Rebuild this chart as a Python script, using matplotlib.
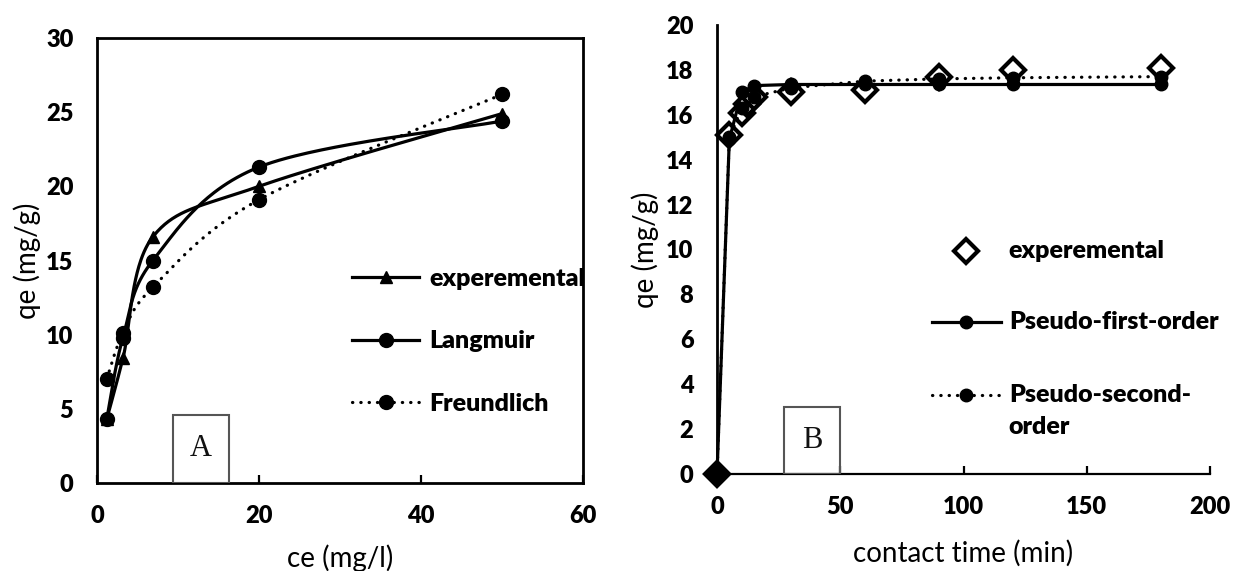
import numpy as np
import matplotlib
matplotlib.use("Agg")
import matplotlib.pyplot as plt
from matplotlib.patches import Rectangle
from matplotlib.lines import Line2D

plt.rcParams['font.family'] = ['Lato', 'DejaVu Sans']

# ---------------- data: panel A (isotherms) ----------------
ce = [1.2, 3.2, 6.9, 20, 50]
qe_exp_A = [4.3, 8.4, 16.6, 20.0, 24.9]
qe_langmuir = [4.3, 9.8, 15.0, 21.3, 24.4]
qe_freundlich = [7.0, 10.1, 13.2, 19.1, 26.2]
xticks_A = [0, 20, 40, 60]
yticks_A = [0, 5, 10, 15, 20, 25, 30]

# ---------------- data: panel B (kinetics) ----------------
t_exp = [0, 5, 10, 12, 15, 30, 60, 90, 120, 180]
qt_exp = [0, 15.1, 16.1, 16.5, 16.8, 17.0, 17.1, 17.7, 18.0, 18.1]
t_model = [0, 5, 10, 15, 30, 60, 90, 120, 180]
qt_pfo = [0, 14.9, 17.0, 17.3, 17.35, 17.35, 17.35, 17.35, 17.35]
qt_pso = [0, 15.0, 16.3, 16.8, 17.2, 17.5, 17.6, 17.65, 17.7]
xticks_B = [0, 50, 100, 150, 200]
yticks_B = list(range(0, 21, 2))


def smooth(x, y, n=60):
    """Excel-like smoothed line (Catmull-Rom Bezier through the points)."""
    x = np.asarray(x, float)
    y = np.asarray(y, float)
    ox, oy = [], []
    s = np.linspace(0, 1, n)
    for i in range(len(x) - 1):
        x0, y0 = (x[i - 1], y[i - 1]) if i > 0 else (x[i], y[i])
        x3, y3 = (x[i + 2], y[i + 2]) if i + 2 < len(x) else (x[i + 1], y[i + 1])
        x1, y1, x2, y2 = x[i], y[i], x[i + 1], y[i + 1]
        c1x, c1y = x1 + (x2 - x0) / 6, y1 + (y2 - y0) / 6
        c2x, c2y = x2 - (x3 - x1) / 6, y2 - (y3 - y1) / 6
        bx = (1 - s) ** 3 * x1 + 3 * (1 - s) ** 2 * s * c1x + 3 * (1 - s) * s ** 2 * c2x + s ** 3 * x2
        by = (1 - s) ** 3 * y1 + 3 * (1 - s) ** 2 * s * c1y + 3 * (1 - s) * s ** 2 * c2y + s ** 3 * y2
        ox.extend(bx)
        oy.extend(by)
    return np.array(ox), np.array(oy)


W, H = 1233, 571
fig = plt.figure(figsize=(W / 100, H / 100), dpi=100)

TICK_FS = 17
LAB_FS = 20
LEG_FS = 18
TICK_W = 'heavy'
LEG_W = 'heavy'
DOT = (0, (0.1, 2.5))

# ================= Panel A =================
axA = fig.add_axes([97 / W, 1 - 483 / H, (583 - 97) / W, (483 - 38) / H])
lw = 2.3
sx, sy = smooth(ce, qe_exp_A)
axA.plot(sx, sy, color='black', lw=lw, solid_capstyle='round')
axA.plot(ce, qe_exp_A, ls='none', marker='^', ms=9, color='black')
sx, sy = smooth(ce, qe_langmuir)
axA.plot(sx, sy, color='black', lw=lw, solid_capstyle='round')
axA.plot(ce, qe_langmuir, ls='none', marker='o', ms=10, color='black')
sx, sy = smooth(ce, qe_freundlich)
axA.plot(sx, sy, color='black', lw=lw, ls=DOT, dash_capstyle='round')
axA.plot(ce, qe_freundlich, ls='none', marker='o', ms=10, color='black')

axA.set_xlim(0, 60)
axA.set_ylim(0, 30)
axA.set_xticks(xticks_A)
axA.set_yticks(yticks_A)
for sp in axA.spines.values():
    sp.set_linewidth(2.0)
axA.tick_params(axis='x', direction='in', length=6, width=1.6, pad=16, labelsize=TICK_FS)
axA.tick_params(axis='y', length=0, pad=17, labelsize=TICK_FS)
for lab in axA.get_xticklabels() + axA.get_yticklabels():
    lab.set_fontweight(TICK_W)
axA.set_xlabel('ce (mg/l)', fontsize=LAB_FS, va='center')
axA.set_ylabel('qe (mg/g)', fontsize=LAB_FS, va='center')
axA.xaxis.set_label_coords(0.5, -0.169)
axA.yaxis.set_label_coords(-0.144, 0.5)

hA = [Line2D([], [], color='black', lw=lw, marker='^', ms=9),
      Line2D([], [], color='black', lw=lw, marker='o', ms=10),
      Line2D([], [], color='black', lw=lw, ls=DOT, dash_capstyle='round', marker='o', ms=10)]
legA = axA.legend(hA, ['experemental', 'Langmuir', 'Freundlich'], loc='upper left',
                  bbox_to_anchor=((352 - 97) / 486, (483 - 268) / 445), frameon=False,
                  borderpad=0, borderaxespad=0, handlelength=2.68, handletextpad=0.4,
                  labelspacing=1.62, prop={'weight': LEG_W, 'size': LEG_FS})

axA.add_patch(Rectangle((9.4, 0), 6.9, 4.6, fill=False, edgecolor='#555555', lw=1.5, zorder=5))
axA.text(12.85, 2.3, 'A', family=['Liberation Serif', 'DejaVu Serif'], fontsize=22,
         ha='center', va='center', color='#111111')

# ================= Panel B =================
axB = fig.add_axes([717 / W, 1 - 474 / H, (1210 - 717) / W, (474 - 25) / H])
axB.plot(t_exp[1:], qt_exp[1:], ls='none', marker='D', ms=12, mfc='white', mec='black', mew=3.0,
         clip_on=False, zorder=2)
axB.plot(t_exp[:1], qt_exp[:1], ls='none', marker='D', ms=12, mfc='black', mec='black', mew=3.0,
         clip_on=False, zorder=4)
axB.plot(t_model, qt_pfo, color='black', lw=2.3, marker='o', ms=9, clip_on=False, zorder=3)
axB.plot(t_model, qt_pso, color='black', lw=2.3, ls=DOT, dash_capstyle='round', marker='o', ms=9,
         clip_on=False, zorder=3)

axB.set_xlim(0, 200)
axB.set_ylim(0, 20)
axB.set_xticks(xticks_B)
axB.set_yticks(yticks_B)
axB.spines['top'].set_visible(False)
axB.spines['right'].set_visible(False)
axB.spines['left'].set_linewidth(2.0)
axB.spines['bottom'].set_linewidth(1.6)
axB.tick_params(axis='x', direction='in', length=6, width=1.6, pad=16, labelsize=TICK_FS)
axB.tick_params(axis='y', length=0, pad=17, labelsize=TICK_FS)
for lab in axB.get_xticklabels() + axB.get_yticklabels():
    lab.set_fontweight(TICK_W)
axB.set_xlabel('contact time (min)', fontsize=LAB_FS, va='center')
axB.set_ylabel('qe (mg/g)', fontsize=LAB_FS, va='center')
axB.xaxis.set_label_coords(0.5, -0.176)
axB.yaxis.set_label_coords(-0.146, 0.5)

# legend of panel B (drawn manually so the wrapped label lines up like the original)
tr = axB.transAxes
axB.add_line(Line2D([0.505], [0.4967], transform=tr, ls='none', marker='D', ms=12,
                    mfc='white', mec='black', mew=3.0, clip_on=False))
axB.add_line(Line2D([0.436, 0.576], [0.3385, 0.3385], transform=tr, color='black', lw=2.3,
                    clip_on=False))
axB.add_line(Line2D([0.505], [0.3385], transform=tr, ls='none', marker='o', ms=9,
                    color='black', clip_on=False))
axB.add_line(Line2D([0.436, 0.576], [0.176, 0.176], transform=tr, color='black', lw=2.3,
                    ls=DOT, dash_capstyle='round', clip_on=False))
axB.add_line(Line2D([0.505], [0.176], transform=tr, ls='none', marker='o', ms=9,
                    color='black', clip_on=False))
for ytxt, txt in [(0.4967, 'experemental'), (0.3385, 'Pseudo-first-order'),
                  (0.176, 'Pseudo-second-'), (0.105, 'order')]:
    axB.text(0.592, ytxt, txt, transform=tr, fontsize=LEG_FS, fontweight=LEG_W,
             ha='left', va='center')

axB.add_patch(Rectangle((27.3, 0), 22.7, 3.0, fill=False, edgecolor='#555555', lw=1.5, zorder=5))
axB.text(38.6, 1.5, 'B', family=['Liberation Serif', 'DejaVu Serif'], fontsize=22,
         ha='center', va='center', color='#111111')

fig.savefig('out.png', dpi=100)
